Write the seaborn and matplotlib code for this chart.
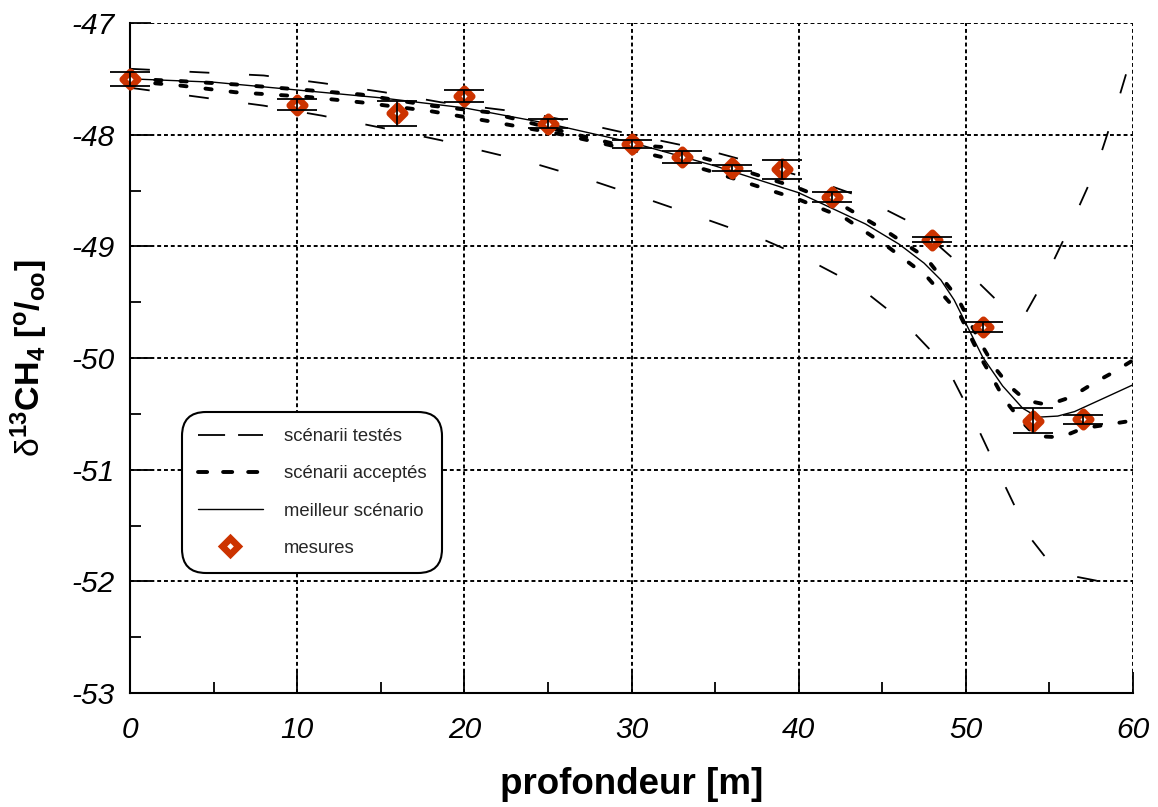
import numpy as np
import pandas as pd
import matplotlib
matplotlib.use("Agg")
import matplotlib.pyplot as plt
import seaborn as sns
from matplotlib.lines import Line2D
from matplotlib.ticker import MultipleLocator

# ---------------- data ----------------
depth_meas = [0, 10, 16, 20, 25, 30, 33, 36, 39, 42, 48, 51, 54, 57]
d13c_meas = [-47.50, -47.73, -47.81, -47.65, -47.90, -48.08, -48.20, -48.30,
             -48.31, -48.56, -48.94, -49.72, -50.56, -50.55]
err_meas = [0.063, 0.045, 0.11, 0.054, 0.036, 0.036, 0.054, 0.027,
            0.085, 0.045, 0.022, 0.045, 0.11, 0.04]

best_x = [0, 5, 10, 15, 20, 25, 30, 35, 40, 44, 46, 47.5, 48.5, 49.3, 50.1,
          51, 52.2, 53.4, 54.3, 55.5, 56.5, 58.4, 60]
best_y = [-47.5, -47.53, -47.6, -47.67, -47.76, -47.9, -48.07, -48.28, -48.52,
          -48.8, -48.98, -49.15, -49.3, -49.48, -49.72, -49.99, -50.25,
          -50.45, -50.53, -50.52, -50.48, -50.35, -50.24]

acc_up_x = [0, 3, 6.3, 10.5, 13.8, 18, 21.5, 25.9, 28.9, 31.8, 34.8, 37.5, 40,
            42.8, 45.3, 47.6, 49.5, 50.9, 51.8, 52.6, 53.6, 54.9, 56.3, 57.7,
            58.8, 60]
acc_up_y = [-47.5, -47.52, -47.55, -47.6, -47.64, -47.74, -47.8, -47.97,
            -48.08, -48.11, -48.23, -48.36, -48.48, -48.65, -48.87, -49.1,
            -49.46, -49.87, -50.1, -50.25, -50.38, -50.42, -50.35, -50.22,
            -50.13, -50.02]

acc_lo_x = [0, 3, 6.3, 10.5, 13.8, 18, 21.5, 25.9, 28.9, 31.8, 34.8, 37.5, 40,
            42.8, 45.3, 47.6, 49.6, 50.9, 51.6, 52.3, 53.3, 54.2, 55.7, 57,
            58.3, 60]
acc_lo_y = [-47.52, -47.56, -47.62, -47.66, -47.71, -47.79, -47.88, -48.0,
            -48.1, -48.2, -48.33, -48.46, -48.58, -48.75, -49.0, -49.26,
            -49.6, -50.0, -50.18, -50.37, -50.56, -50.7, -50.71, -50.63,
            -50.6, -50.56]

test_lo_x = [0, 4, 8, 11.5, 15.1, 18.6, 20.4, 24, 27.6, 31, 34.5, 37.9, 40.2,
             43.5, 46.3, 48.9, 50.6, 52.2, 53.8, 55, 56.3, 59.4, 60]
test_lo_y = [-47.58, -47.66, -47.74, -47.83, -47.94, -48.05, -48.12, -48.25,
             -48.41, -48.58, -48.76, -48.94, -49.09, -49.35, -49.68, -50.09,
             -50.59, -51.1, -51.6, -51.83, -51.95, -52.04, -52.08]

test_up_x = [0, 4, 8, 11.6, 15.2, 18.6, 24, 27.7, 31.3, 34.8, 38, 40.8, 43.6,
             46.9, 49.7, 52.3, 53.5, 54.7, 56.3, 57.8, 59, 60]
test_up_y = [-47.41, -47.44, -47.47, -47.54, -47.62, -47.71, -47.81, -47.92,
             -48.04, -48.15, -48.28, -48.4, -48.55, -48.8, -49.17, -49.55,
             -49.62, -49.3, -48.8, -48.3, -47.75, -47.25]

x_ticks = [0, 10, 20, 30, 40, 50, 60]
y_ticks = [-53, -52, -51, -50, -49, -48, -47]

legend_labels = ["scénarii testés", "scénarii acceptés", "meilleur scénario", "mesures"]

# ---------------- style ----------------
sns.set_theme(style="white")
plt.rcParams["font.family"] = ["Liberation Sans", "DejaVu Sans"]
plt.rcParams["mathtext.fontset"] = "custom"
plt.rcParams["mathtext.rm"] = "Liberation Sans"
plt.rcParams["mathtext.bf"] = "Liberation Sans:bold"
plt.rcParams["mathtext.it"] = "Liberation Sans:italic"
plt.rcParams["axes.unicode_minus"] = False

RED = "#CC3300"

fig = plt.figure(figsize=(11.58, 8.07), dpi=100)
ax = fig.add_axes([130 / 1158, 1 - 693 / 807, 1003 / 1158, 670 / 807])

# tested scenarios (thin long dashes)
for xs, ys in [(test_lo_x, test_lo_y), (test_up_x, test_up_y)]:
    sns.lineplot(x=xs, y=ys, ax=ax, color="black", linewidth=1.3,
                 linestyle=(0, (11, 22)), zorder=3)

# accepted scenarios (thick short dashes)
for xs, ys in [(acc_up_x, acc_up_y), (acc_lo_x, acc_lo_y)]:
    sns.lineplot(x=xs, y=ys, ax=ax, color="black", linewidth=2.8,
                 linestyle=(0, (1.6, 4.9)), dash_capstyle="round", zorder=3)

# best scenario
sns.lineplot(x=best_x, y=best_y, ax=ax, color="black", linewidth=1.0, zorder=4)

# measurements
meas = pd.DataFrame({"depth": depth_meas, "d13c": d13c_meas, "err": err_meas})
sns.scatterplot(data=meas, x="depth", y="d13c", ax=ax, marker="D", s=62,
                facecolor="white", edgecolor=RED, linewidth=4.8, zorder=5,
                clip_on=False)
eb = ax.errorbar(meas["depth"], meas["d13c"], yerr=meas["err"], fmt="none",
                 ecolor="black", elinewidth=1.3, capsize=14.4, capthick=1.3,
                 zorder=6)
for child in eb.get_children():
    child.set_clip_on(False)

# axes
ax.set_xlim(0, 60)
ax.set_ylim(-53, -47)
ax.set_xticks(x_ticks)
ax.set_yticks(y_ticks)
ax.xaxis.set_minor_locator(MultipleLocator(5))
ax.yaxis.set_minor_locator(MultipleLocator(0.5))
ax.tick_params(which="both", direction="in", bottom=True, left=True,
               top=False, right=False, color="black", width=1.3)
ax.tick_params(which="major", length=15)
ax.tick_params(which="minor", length=8)
ax.tick_params(axis="x", which="major", pad=16.5)
ax.tick_params(axis="y", which="major", pad=11)
for lab in ax.get_xticklabels() + ax.get_yticklabels():
    lab.set_fontsize(21.5)
    lab.set_fontstyle("italic")
    lab.set_color("black")

ax.grid(True, which="major", color="black", linestyle=(0, (2, 1.5)), linewidth=1.4)
for side in ["top", "right"]:
    ax.spines[side].set_visible(False)
for side in ["left", "bottom"]:
    ax.spines[side].set_color("black")
    ax.spines[side].set_linewidth(1.5)

ax.set_xlabel("profondeur [m]", fontsize=26.5, fontweight="bold", color="black")
ax.xaxis.set_label_coords(0.5, -0.11)
ax.set_ylabel(r"$\mathrm{δ}^{\mathbf{13}}\mathbf{CH_{4}}$ $\mathbf{[^{o}/_{oo}]}$",
              fontsize=24.5, color="black")
ax.yaxis.set_label_coords(-0.08, 0.5)

# legend
handles = [
    Line2D([], [], color="black", linewidth=1.3, linestyle=(0, (15, 7.2))),
    Line2D([], [], color="black", linewidth=2.8, linestyle=(0, (2.35, 4.1)),
           dash_capstyle="round"),
    Line2D([], [], color="black", linewidth=1.0),
    Line2D([], [], linestyle="none", marker="D", markersize=7.8,
           markerfacecolor="white", markeredgecolor=RED, markeredgewidth=4.8),
]
leg = ax.legend(handles, legend_labels, loc="upper left",
                bbox_to_anchor=(0.052, 0.419), borderaxespad=0,
                fontsize=13.3, handlelength=3.5, handletextpad=1.14,
                labelspacing=1.1, borderpad=0.85, frameon=True, fancybox=True)
frame = leg.get_frame()
frame.set_edgecolor("black")
frame.set_linewidth(1.5)
frame.set_facecolor("white")
frame.set_alpha(1)
frame.set_boxstyle("round,pad=0,rounding_size=1.3")
leg.set_zorder(10)

fig.savefig("out.png", dpi=100)
